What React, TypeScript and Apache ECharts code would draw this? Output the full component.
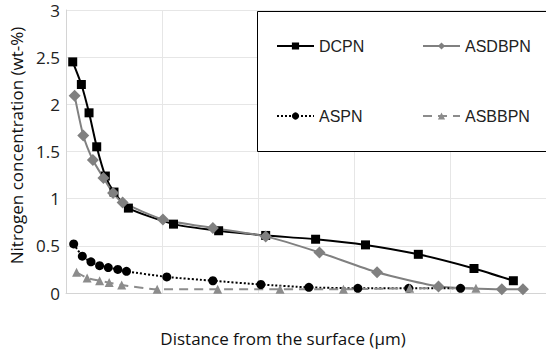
import React, { useEffect, useRef } from "react";
import * as echarts from "echarts";

const dcpnX = [7, 16, 24, 32, 41, 50, 65, 112, 159, 208, 260, 312, 367, 425, 466];
const dcpnY = [2.45, 2.21, 1.91, 1.55, 1.24, 1.07, 0.9, 0.73, 0.66, 0.61, 0.57, 0.51, 0.41, 0.26, 0.13];

const asdbpnX = [9, 18, 28, 39, 49, 59, 101, 153, 208, 264, 324, 388, 454, 476];
const asdbpnY = [2.09, 1.67, 1.41, 1.22, 1.06, 0.96, 0.78, 0.69, 0.6, 0.43, 0.22, 0.07, 0.04, 0.04];

const aspnX = [8, 17, 26, 35, 44, 54, 63, 105, 153, 203, 253, 304, 357, 411];
const aspnY = [0.52, 0.39, 0.33, 0.29, 0.27, 0.25, 0.23, 0.17, 0.13, 0.09, 0.06, 0.05, 0.05, 0.05];

const asbbpnX = [11, 22, 35, 45, 58, 95, 158, 223, 289, 358, 427];
const asbbpnY = [0.22, 0.16, 0.13, 0.11, 0.085, 0.04, 0.04, 0.04, 0.04, 0.05, 0.05];

const pairs = (xs: number[], ys: number[]) => xs.map((x, i) => [x, ys[i]]);

const labelFont = "'Open Sans', sans-serif";
const legendFont = "'Liberation Sans', Arial, sans-serif";

export default function App() {
  const ref = useRef<HTMLDivElement>(null);
  useEffect(() => {
    if (!ref.current) return;
    const chart = echarts.init(ref.current, undefined, { renderer: "svg" });
    const legendBase = {
      orient: "horizontal" as const,
      padding: 0,
      itemWidth: 37,
      itemHeight: 9,
      itemGap: 0,
      selectedMode: false,
      textStyle: { fontFamily: legendFont, fontSize: 16, color: "#222", lineHeight: 16 },
    };
    chart.setOption({
      animation: false,
      backgroundColor: "#fff",
      grid: { left: 63, right: -5, top: 10, bottom: 59, containLabel: false },
      xAxis: {
        type: "value",
        min: 0,
        max: 500,
        interval: 100,
        name: "Distance from the surface (\u00b5m)",
        nameLocation: "middle",
        nameGap: 37,
        nameTextStyle: { fontFamily: labelFont, fontSize: 17, color: "#111", padding: [0, 46, 0, 0] },
        axisLabel: { show: false },
        axisTick: { show: false },
        axisLine: { show: true, lineStyle: { color: "#d4d4d4", width: 1 } },
        splitLine: { show: true, lineStyle: { color: "#e6e6e6", width: 1 } },
      },
      yAxis: {
        type: "value",
        min: 0,
        max: 3,
        interval: 0.5,
        name: "Nitrogen concentration (wt-%)",
        nameLocation: "middle",
        nameRotate: 90,
        nameGap: 41,
        nameTextStyle: { fontFamily: labelFont, fontSize: 17, color: "#111", padding: [0, 0, 0, 12] },
        axisLabel: { fontFamily: labelFont, fontSize: 17, color: "#222", margin: 6 },
        axisTick: { show: false },
        axisLine: { show: true, lineStyle: { color: "#d4d4d4", width: 1 } },
        splitLine: { show: true, lineStyle: { color: "#e6e6e6", width: 1 } },
      },
      legend: [
        { ...legendBase, data: ["DCPN"], left: 276, top: 38 },
        { ...legendBase, data: ["ASDBPN"], left: 422, top: 38 },
        { ...legendBase, data: ["ASPN"], left: 276, top: 108 },
        { ...legendBase, data: ["ASBBPN"], left: 422, top: 108 },
      ],
      graphic: [
        {
          type: "rect",
          z: 3,
          shape: { x: 257.5, y: 11.5, width: 300, height: 140 },
          style: { fill: "#fff", stroke: "#000", lineWidth: 1 },
        },
      ],
      series: [
        {
          name: "DCPN",
          type: "line",
          data: pairs(dcpnX, dcpnY),
          smooth: 0.2,
          symbol: "rect",
          symbolSize: 9,
          color: "#000",
          itemStyle: { color: "#000" },
          lineStyle: { color: "#000", width: 2 },
        },
        {
          name: "ASDBPN",
          type: "line",
          data: pairs(asdbpnX, asdbpnY),
          smooth: 0.2,
          symbol: "diamond",
          symbolSize: 12,
          color: "#808080",
          itemStyle: { color: "#808080" },
          lineStyle: { color: "#808080", width: 2 },
        },
        {
          name: "ASPN",
          type: "line",
          data: pairs(aspnX, aspnY),
          smooth: 0.2,
          symbol: "circle",
          symbolSize: 9,
          color: "#000",
          itemStyle: { color: "#000" },
          lineStyle: { color: "#000", width: 2, type: [2, 2] },
        },
        {
          name: "ASBBPN",
          type: "line",
          data: pairs(asbbpnX, asbbpnY),
          smooth: 0.2,
          symbol: "triangle",
          symbolSize: 9,
          color: "#8c8c8c",
          itemStyle: { color: "#8c8c8c" },
          lineStyle: { color: "#8c8c8c", width: 2, type: [9, 6] },
        },
      ],
    });
    return () => chart.dispose();
  }, []);
  return (
    <div
      ref={ref}
      style={{ position: "fixed", left: 0, top: 0, width: 546, height: 352, background: "#fff" }}
    />
  );
}
